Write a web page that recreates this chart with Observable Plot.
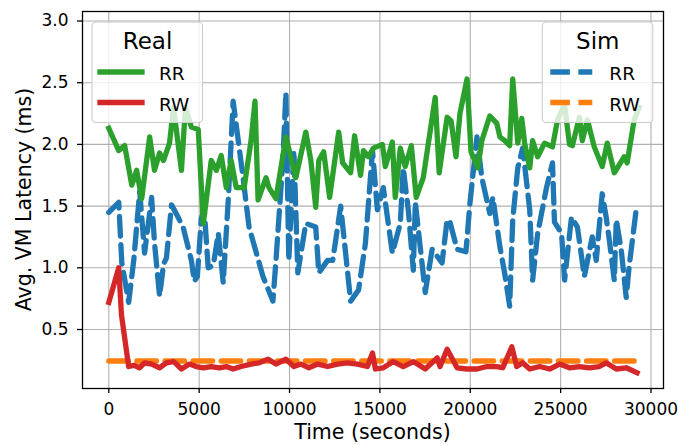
<!DOCTYPE html>
<html>
<head>
<meta charset="utf-8">
<script src="https://cdn.jsdelivr.net/npm/d3@7"></script>
<script src="https://cdn.jsdelivr.net/npm/@observablehq/plot@0.6"></script>
<style>
  html, body { margin: 0; padding: 0; background: white; }
  #chart { width: 678px; height: 445px; }
</style>
</head>
<body>
<div id="chart"></div>
<script>
// ---- Data ----
// Real RR (green, solid)
const realRRTime = [0,550,880,990,1270,1540,1820,2260,2530,2810,3030,3360,3580,4020,4240,4570,4950,5230,5670,5950,6220,6500,6770,7050,7490,7870,8090,8260,8700,8860,9250,9800,10350,10900,11180,11450,11620,11890,12220,12720,12940,13380,13600,13930,14090,14370,14640,15140,15300,15690,15850,16130,16400,16740,17010,17400,18060,18280,18720,18940,19210,19430,19820,20040,20420,20640,21080,21470,21640,21910,22180,22350,22630,22850,23010,23290,23450,23730,24110,24550,24830,25220,25490,25650,26040,26200,26480,26860,27300,27580,27970,28520,28680,29070,29340];
const realRRValue = [2.13,1.95,1.99,1.90,1.67,1.79,1.56,2.06,1.79,1.93,1.87,2.01,2.30,1.79,2.30,2.14,2.12,1.36,1.87,1.79,1.91,1.65,1.87,1.65,1.65,2.03,2.35,1.55,1.73,1.65,1.56,2.06,1.73,2.10,1.87,1.49,1.87,1.94,1.57,2.10,1.85,1.77,2.07,1.75,1.95,1.90,1.97,2.00,1.82,2.02,1.57,1.97,1.82,1.99,1.57,1.73,2.38,1.77,2.22,2.19,1.90,2.25,2.53,1.94,1.81,2.03,2.23,2.17,2.06,2.03,1.99,2.53,2.01,2.21,2.01,1.81,2.03,1.90,2.01,1.98,2.20,2.32,2.00,1.99,2.22,2.03,2.20,1.98,1.82,2.01,1.77,1.90,1.85,2.20,2.30];

// Real RW (red, solid)
const realRWTime = [0,550,700,1100,1400,1700,1980,2370,2810,3190,3580,3740,4020,4460,4840,5230,5670,6110,6500,6880,7320,7870,8310,8810,9250,9800,10240,10630,11070,11560,12110,12660,13210,13760,14310,14590,14750,15190,15740,16290,16850,17510,18170,18330,18720,19270,19820,20370,20920,21470,21800,22300,22570,22900,23290,23840,24390,24940,25490,26040,26590,27140,27520,28080,28630,29230];
const realRWValue = [0.72,1.00,0.62,0.20,0.21,0.19,0.23,0.22,0.19,0.23,0.24,0.22,0.18,0.22,0.20,0.19,0.20,0.19,0.20,0.18,0.20,0.22,0.23,0.26,0.22,0.26,0.20,0.22,0.19,0.22,0.20,0.22,0.23,0.22,0.20,0.31,0.18,0.19,0.24,0.20,0.24,0.18,0.27,0.20,0.34,0.19,0.18,0.18,0.20,0.20,0.19,0.36,0.20,0.23,0.18,0.20,0.18,0.22,0.19,0.20,0.19,0.20,0.23,0.18,0.19,0.15];

// Sim RR (blue, dashed)
const simRRTime = [0,550,720,1100,1380,1710,1980,2370,2530,2810,3030,3190,3470,3800,4130,4570,4730,4900,5120,5280,5500,5780,6060,6330,6610,6880,7430,7760,8530,9080,9250,9630,9800,9960,10240,10460,10900,11450,11620,12110,12390,12830,13380,13820,14200,14590,14860,15190,15690,16130,16290,16570,16850,16960,17510,17890,18440,18720,18880,19270,19760,19980,20370,20640,21080,21250,21640,21910,22180,22350,22630,22900,23290,23450,23730,24220,24550,24660,25050,25220,25600,25930,26310,26750,26970,27300,27520,27690,27970,28080,28350,28630,28790,29180];
const simRRValue = [1.45,1.53,1.04,0.72,1.06,1.62,1.12,1.57,1.20,0.77,1.03,1.08,1.51,1.42,1.32,1.06,0.89,0.93,1.40,1.47,1.00,1.02,1.28,0.88,1.55,2.35,1.73,1.33,0.93,0.73,1.06,1.87,2.42,1.06,1.95,0.96,1.36,1.33,0.96,1.06,1.06,1.50,0.73,0.82,1.20,1.95,1.47,1.65,1.12,1.36,1.81,1.47,0.98,1.53,0.80,1.15,1.04,1.39,1.37,1.15,1.13,1.52,2.06,1.73,1.44,1.57,1.17,0.95,0.69,1.39,1.81,1.97,1.47,0.90,1.28,1.65,1.85,1.37,1.28,0.90,1.41,1.33,0.93,1.25,1.06,1.60,1.41,1.23,0.90,1.39,1.15,0.76,1.01,1.47];

// Sim RW (orange, dashed)
const simRWTime = [0, 29180];
const simRWValue = [0.245, 0.245];

// Ticks and text
const xTicks = [0, 5000, 10000, 15000, 20000, 25000, 30000];
const yTicks = [0.5, 1.0, 1.5, 2.0, 2.5, 3.0];
const xLabel = "Time (seconds)";
const yLabel = "Avg. VM Latency (ms)";
const legendTitles = ["Real", "Sim"];
const seriesNames = ["RR", "RW"];

// ---- Build tables ----
const toRows = (ts, vs) => ts.map((t, i) => ({t, v: vs[i]}));
const realRR = toRows(realRRTime, realRRValue);
const realRW = toRows(realRWTime, realRWValue);
const simRR = toRows(simRRTime, simRRValue);
const simRW = toRows(simRWTime, simRWValue);

const C = {green: "#2ca02c", red: "#d62728", blue: "#1f77b4", orange: "#ff7f0e"};
const LW = 5.3;
const DASH = "19.6,8.5";
const FONT = "DejaVu Sans, sans-serif";

const chart = Plot.plot({
  width: 678,
  height: 445,
  marginLeft: 82,
  marginRight: 15,
  marginTop: 11,
  marginBottom: 57,
  style: {fontFamily: FONT, fontSize: "17px", background: "white", color: "black"},
  x: {domain: [-1455, 30692]},
  y: {domain: [0.022, 3.077]},
  marks: [
    Plot.gridX(xTicks, {stroke: "#b0b0b0", strokeOpacity: 1, strokeWidth: 1.1}),
    Plot.gridY(yTicks, {stroke: "#b0b0b0", strokeOpacity: 1, strokeWidth: 1.1}),
    Plot.line(simRR, {x: "t", y: "v", stroke: C.blue, strokeWidth: LW, strokeDasharray: DASH, strokeLinejoin: "round"}),
    Plot.line(simRW, {x: "t", y: "v", stroke: C.orange, strokeWidth: LW, strokeDasharray: DASH}),
    Plot.line(realRR, {x: "t", y: "v", stroke: C.green, strokeWidth: LW, strokeLinejoin: "round", strokeLinecap: "square"}),
    Plot.line(realRW, {x: "t", y: "v", stroke: C.red, strokeWidth: LW, strokeLinejoin: "round", strokeLinecap: "square"}),
    Plot.frame({stroke: "black", strokeWidth: 1.3}),
    Plot.axisX(xTicks, {tickFormat: d => String(d), tickSize: 5, tickPadding: 9, label: null, stroke: "black", strokeWidth: 1.3}),
    Plot.axisY(yTicks, {tickFormat: d => d.toFixed(1), tickSize: 5, tickPadding: 9, label: null, stroke: "black", strokeWidth: 1.3})
  ]
});

document.getElementById("chart").appendChild(chart);

// ---- Axis titles and legends ----
const svg = d3.select(chart);
svg.append("text")
  .attr("x", (82 + 663) / 2).attr("y", 439)
  .attr("text-anchor", "middle")
  .attr("font-family", FONT).attr("font-size", 20.5).attr("fill", "black")
  .text(xLabel);
svg.append("text")
  .attr("transform", "translate(31,199.5) rotate(-90)")
  .attr("text-anchor", "middle")
  .attr("font-family", FONT).attr("font-size", 20.5).attr("fill", "black")
  .text(yLabel);

function legend(x0, title, colors, dashed) {
  const g = svg.append("g");
  g.append("rect")
    .attr("x", x0).attr("y", 22).attr("width", 110.5).attr("height", 100.5)
    .attr("rx", 4).attr("ry", 4)
    .attr("fill", "white").attr("fill-opacity", 0.8)
    .attr("stroke", "#cccccc").attr("stroke-width", 1.1);
  g.append("text")
    .attr("x", x0 + 55.5).attr("y", 48.5)
    .attr("text-anchor", "middle")
    .attr("font-family", FONT).attr("font-size", 23).attr("fill", "black")
    .text(title);
  colors.forEach((c, i) => {
    const y = 72 + i * 30.5;
    g.append("line")
      .attr("x1", x0 + 8).attr("x2", x0 + 50)
      .attr("y1", y).attr("y2", y)
      .attr("stroke", c).attr("stroke-width", LW)
      .attr("stroke-dasharray", dashed ? DASH : null)
      .attr("stroke-linecap", dashed ? "butt" : "square");
    g.append("text")
      .attr("x", x0 + 67).attr("y", y + 8.3)
      .attr("text-anchor", "start")
      .attr("font-family", FONT).attr("font-size", 18.5).attr("fill", "black")
      .text(seriesNames[i]);
  });
}
legend(92, legendTitles[0], [C.green, C.red], false);
legend(542.3, legendTitles[1], [C.blue, C.orange], true);
</script>
</body>
</html>
